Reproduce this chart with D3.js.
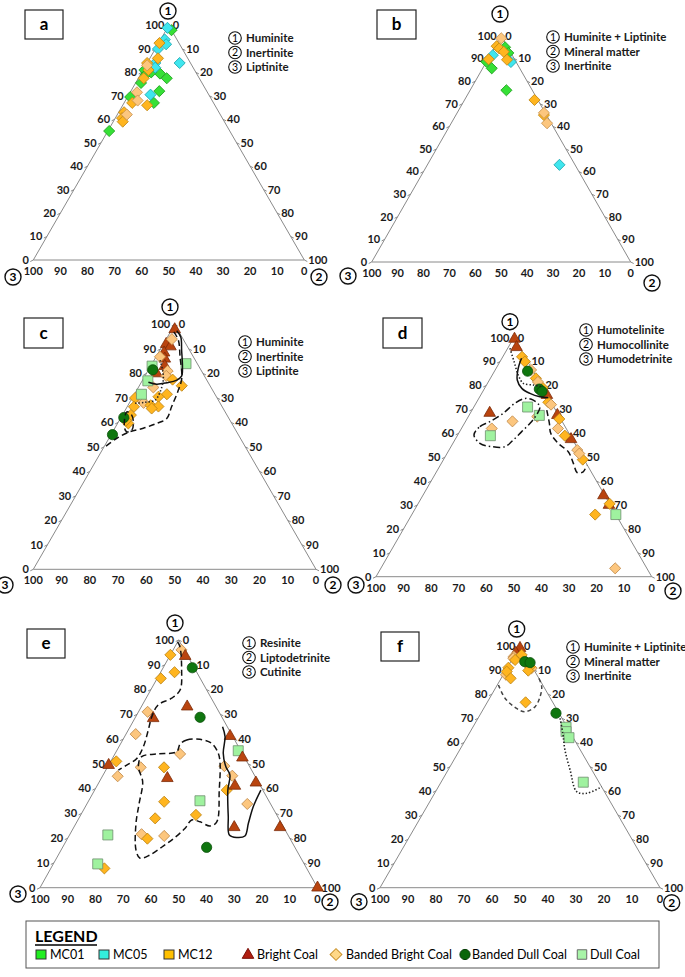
<!DOCTYPE html>
<html><head><meta charset="utf-8">
<script src="https://cdn.jsdelivr.net/npm/d3@7"></script>
<style>body{margin:0;background:#fff}svg{display:block}</style>
</head><body>
<svg id="chart" width="685" height="977"></svg>
<script>
// ---------- DATA ----------
const tickValues = [0,10,20,30,40,50,60,70,80,90,100];
const panelLetters = ["a","b","c","d","e","f"];
const aNames = ["Huminite","Inertinite","Liptinite"];
const bNames = ["Huminite + Liptinite","Mineral matter","Inertinite"];
const cNames = ["Huminite","Inertinite","Liptinite"];
const dNames = ["Humotelinite","Humocollinite","Humodetrinite"];
const eNames = ["Resinite","Liptodetrinite","Cutinite"];
const fNames = ["Huminite + Liptinite","Mineral matter","Inertinite"];

// points: [component1, component2, series]  (component3 = 100 - c1 - c2)
const aPoints = [
 [55,0.5,"MC01"],[69.5,1,"MC01"],[67,11,"MC01"],[72,10.5,"MC01"],[75.5,2,"MC01"],[77.5,10.5,"MC01"],
 [79.5,7,"MC01"],[81,0.5,"MC01"],[79,2,"MC01"],[80,3.5,"MC01"],[98,2,"MC01"],
 [99,0,"MC05"],[94,1.5,"MC05"],[92,3,"MC05"],[90,1,"MC05"],[84,12,"MC05"],[84,3,"MC05"],[82,4,"MC05"],[70.5,8,"MC05"],
 [92.5,0.3,"MC12"],[86,3,"MC12"],[84,0,"MC12"],[81,2,"MC12"],[77.5,2,"MC12"],[67,3,"MC12"],[66,9,"MC12"],
 [63,2,"MC12"],[60.5,2.5,"MC12"],[59,3.5,"MC12"],
 [83,0.5,"MC12L"],[71.5,2.5,"MC12L"],[68,4.5,"MC12L"],[62,3.5,"MC12L"]
];
const bPoints = [
 [95,4,"MC01"],[92.5,6.5,"MC01"],[88.6,0,"MC01"],[85.7,3.5,"MC01"],[76,14,"MC01"],
 [91.5,1,"MC05"],[88.5,9.5,"MC05"],[43,51,"MC05"],
 [95.5,0.5,"MC12"],[94.5,2,"MC12"],[93,4.5,"MC12"],[89.5,7.5,"MC12"],[89.7,0.3,"MC12"],[71.7,27,"MC12"],[65,34,"MC12"],
 [99,0.5,"MC12L"],[66,33.5,"MC12L"],[61.4,37,"MC12L"]
];
const cPoints = [
 [98,1,"BC"],[92,1,"BC"],[91,3,"BC"],[88.5,2,"BC"],[86,3.5,"BC"],[83,5,"BC"],[80,3.6,"BC"],
 [94,2,"BBL"],[86.8,1.4,"BBL"],[81,7,"BBL"],[79,7.5,"BBL"],[74.3,5.3,"BBL"],[69.1,3.8,"BBL"],[68,5,"BBL"],
 [77.5,10.5,"BBO"],[75,15,"BBO"],[71.5,11.5,"BBO"],[70.5,9,"BBO"],[67,8,"BBO"],[66.5,11,"BBO"],[65.7,9,"BBO"],
 [70,1,"BBO"],[66.4,2.4,"BBO"],[63,3,"BBO"],[59.6,3.8,"BBO"],[60.7,2.4,"BBO"],
 [83,0.5,"DC"],[77,2,"DC"],[71.5,2.5,"DC"],[84,12,"DC"],
 [81.5,1.5,"BDC"],[55,0.5,"BDC"],[62,1,"BDC"]
];
const dPoints = [
 [62,11,"BBL"],[67,25,"BBL"],[65,17,"BBL"],
 [99.5,0.5,"BC"],[96,3,"BC"],[68.5,7,"BC"],[76,24,"BC"],[67.6,32,"BC"],[57.5,42,"BC"],[34,65.5,"BC"],[30,69.5,"BC"],
 [92,7,"BBO"],[90,9,"BBO"],[83,16.5,"BBO"],[79,21,"BBO"],[73,26,"BBO"],[66,33.5,"BBO"],[59,39,"BBO"],[49,50.5,"BBO"],[30.5,69.5,"BBO"],[26,66.5,"BBO"],
 [86.5,13,"BBL"],[81.5,18,"BBL"],[72,27.5,"BBL"],[62,35,"BBL"],[53,46.5,"BBL"],[51.5,48,"BBL"],[3.5,85,"BBL"],
 [71,19.5,"DC"],[67.5,25.5,"DC"],[59,12,"DC"],[26,74,"DC"],
 [86,12,"BDC"],[78.5,20,"BDC"],[77.5,21.5,"BDC"]
];
const ePoints = [
 [96,3,"BBL"],[71,3.3,"BBL"],[62,3.5,"BBL"],[45,5.5,"BBL"],[54,23.5,"BBL"],[48.6,12,"BBL"],[21.6,25.8,"BBL"],
 [20.9,34.3,"BBL"],[49.1,41.9,"BBL"],[45.2,46.7,"BBL"],[33.8,57.8,"BBL"],
 [94,0,"BBO"],[87,5,"BBO"],[84.5,1.3,"BBO"],[51,2,"BBO"],[48.6,20.4,"BBO"],[34.7,27.4,"BBO"],[28,27.5,"BBO"],
 [19.8,28.8,"BBO"],[29.4,41.5,"BBO"],[39.4,47.6,"BBO"],[7.8,19.3,"BBO"],
 [55.3,43.8,"DC"],[35.1,40.1,"DC"],[21.3,13.8,"DC"],[9.6,16,"DC"],
 [93.5,5.6,"BC"],[73.1,16.5,"BC"],[68.4,6.6,"BC"],[49.5,0,"BC"],[44.2,23.8,"BC"],[61.2,37.9,"BC"],[52.5,46.7,"BC"],
 [42.4,56.6,"BC"],[41.1,49.7,"BC"],[24.4,57.8,"BC"],[24.4,74.3,"BC"],[0,100,"BC"],
 [88.8,10.5,"BDC"],[68.8,23.3,"BDC"],[16.3,51.9,"BDC"]
];
const fPoints = [
 [99,0.5,"BC"],[97,0,"BC"],
 [95.5,0,"BBL"],[94.8,0.2,"BBL"],[88,1,"BBL"],[90.7,8.8,"BBL"],
 [94.1,1.2,"BBO"],[92.7,6,"BBO"],[91.3,7.9,"BBO"],[90.9,0.4,"BBO"],[89.3,0.6,"BBO"],[86.5,3.4,"BBO"],
 [89.7,8.1,"BBO"],[76.6,13.7,"BBO"],[96.2,2.5,"BBO"],
 [93.4,5,"BDC"],[93,7.1,"BDC"],[72.1,26.8,"BDC"],
 [66.3,33.3,"DC"],[64.5,34.2,"DC"],[62,36.5,"DC"],[43.6,50.8,"DC"]
];

// outline curves [c1, c2]
const cSolid = [[97.4,2],[94.9,4.7],[89.5,7.7],[82.7,11.4],[78.9,13],[77.3,12.1],[76.2,9.1],[75.6,5.8],[76.4,2.5]];
const cDashed = [[97,1.2],[93.6,4.5],[86.8,8.5],[78,13.5],[73.2,14.7],[66.4,15.7],[61.6,16.4],[59.6,13.8],[57.6,10.1],[56.2,6.1],[53.5,2.8],[50,0.4]];
const cDotted = [[85.4,2.1],[81.3,5.1],[77.3,7.3],[72.5,8.6],[69.1,8.5],[68.2,5.4],[67.8,2.1]];
const cLoop = [[64.3,0.9],[63,3.3],[59.6,5.6],[56.9,6.4],[56.2,4.9],[58.2,3.1]];
const dSolid = [[91.4,7.1],[87.2,8],[82.3,10.1],[78.8,13.5],[76.7,17.5],[75.3,21.8],[74.9,25.1]];
const dDotted = [[95.6,0.8],[90,5.1],[84.4,9.4],[80.9,13],[80.2,17],[79.5,20.3]];
const dDashDot = [[59.3,5.9],[62.8,6.3],[64.9,8.9],[68.4,12],[72.6,14.1],[74.6,16.8],[73.9,20.1],[71.1,23.9],[67.7,24.4],[64.2,23.8],[60.7,22.5],[57.2,21.2],[54.4,19.6],[54.4,14.8],[55.8,9.8]];
const dDashed = [[69.7,27.1],[64.2,30.8],[60,33.4],[55.8,38.2],[52.3,43.6],[47.4,47.9],[43.5,51.3],[43.9,53.2],[46.7,53.1]];
const eDashedLeft = [[99.2,0],[97.3,1.8],[87.9,7.1],[79.8,10.6],[76.5,9.2],[73.8,5.7],[69,5.8],[63.7,7.2],[56.9,8.8],[52.2,8.8],[49.5,6.5],[47.5,4.5]];
const eDashedBlob = [[58,21.5],[59.6,23.1],[59.9,27.7],[58.3,32.7],[54.3,37.1],[50.2,39.8],[39.4,44.9],[26.6,50.4],[24.9,48.8],[26.6,44.4],[27.3,41],[24,40.3],[20.3,38.5],[16.8,36],[13.2,33],[11.9,30.1],[15.2,27],[26,21.6],[34.1,18.7],[42.8,15.6],[48.9,11],[52.9,10.2],[54,15.1],[54.9,21.8]];
const eSolid = [[65,33.3],[61,36.2],[54.3,38.9],[48.8,42.6],[45.5,45.7],[39.4,48],[28.7,53.5],[21.3,57.6],[20.3,60.7],[20.9,63.4],[26,62.1],[32.7,60.5],[39.4,59.9]];
const fDashed = [[83.8,0.4],[78.3,5.5],[74.5,11],[72.7,15.4],[74.8,18],[78.9,17.7],[83.1,16.2],[86.5,13.5]];
const fDotted = [[70,29.3],[63.8,33.4],[56.9,37.6],[48.6,43.6],[39.7,50.4],[39,54.3],[41.7,58.3]];

const legendSeries = ["MC01","MC05","MC12"];
const legendTypes = ["Bright Coal","Banded Bright Coal","Banded Dull Coal","Dull Coal"];

// ---------- LAYOUT / STYLE ----------
const layout = [
 {L:[33.3,260],R:[304.3,260],A:[168.8,25.5],n1:[168,11],n2:[319,277],n3:[13,277],box:[25,10,38,29],leg:[235,38],names:aNames,pts:aPoints,curves:[]},
 {L:[371.7,262],R:[630.7,262],A:[501.2,36],n1:[500,14],n2:[652,283],n3:[348,276],box:[377,10,39,29],leg:[553,37],names:bNames,pts:bPoints,curves:[]},
 {L:[33.3,569.3],R:[316,569.3],A:[174.7,324.5],n1:[170,307],n2:[333,585],n3:[5,585],box:[24,318,39,30],leg:[245,342],names:cNames,pts:cPoints,
  curves:[[cSolid,"solid",false],[cDashed,"dashed",false],[cDotted,"dotted",false],[cLoop,"dashed",true]]},
 {L:[376,576.7],R:[651.7,576.7],A:[513.8,337.7],n1:[510,321.7],n2:[673,591],n3:[356,585],box:[383,318,39,30],leg:[586,330],names:dNames,pts:dPoints,
  curves:[[dSolid,"solid",false],[dDotted,"dotted",false],[dDashDot,"dashdot",true],[dDashed,"dashed",false]]},
 {L:[40,887.7],R:[317.5,887.7],A:[178.7,640],n1:[175,623],n2:[330,902],n3:[18,894],box:[27,629,38,29],leg:[249,643],names:eNames,pts:ePoints,
  curves:[[eDashedLeft,"dashed",false],[eDashedBlob,"dashed",true],[eSolid,"solid",false]]},
 {L:[380,887.7],R:[660,887.7],A:[520,645.7],n1:[516.7,629],n2:[671.7,902.7],n3:[359,901.7],box:[381,632,38,29],leg:[573,647],names:fNames,pts:fPoints,
  curves:[[fDashed,"dashedgrey",false],[fDotted,"dotted",false]]}
];
const markStyle = {
 MC01:{shape:"diamond",fill:"#36e036",stroke:"#1e9e1e"},
 MC05:{shape:"diamond",fill:"#3fe6ee",stroke:"#1ea4ae"},
 MC12:{shape:"diamond",fill:"#ffb51f",stroke:"#c08613"},
 MC12L:{shape:"diamond",fill:"#fcc67e",stroke:"#c8924e"},
 BC:{shape:"triangle",fill:"#b9440f",stroke:"#7c2b08"},
 BBL:{shape:"diamond",fill:"#fcc67e",stroke:"#c08a4a"},
 BBO:{shape:"diamond",fill:"#ffb51f",stroke:"#bd8415"},
 BDC:{shape:"circle",fill:"#0f760f",stroke:"#0a4f0a"},
 DC:{shape:"square",fill:"#9ff29f",stroke:"#6f8f6f"}
};
const lineStyle = {solid:[null,"#111"],dashed:["6,3.5","#111"],dashedgrey:["4,3","#444"],dotted:["1.4,2","#222"],dashdot:["7,3,1.5,3","#111"]};

const svg = d3.select("#chart");
const FONT = "Lato, 'Open Sans', sans-serif";
const pct = d3.scaleLinear().domain([0,100]).range([0,1]);

function symPath(shape){
  if(shape==="diamond") return d3.symbol(d3.symbolSquare,62)();
  if(shape==="triangle") return d3.symbol(d3.symbolTriangle,58)();
  if(shape==="circle") return d3.symbol(d3.symbolCircle,82)();
  return d3.symbol(d3.symbolSquare,100)();
}

layout.forEach((p,i)=>{
  const g = svg.append("g");
  const proj = (c1,c2)=>[
    p.L[0] + pct(c1)*(p.A[0]-p.L[0]) + pct(c2)*(p.R[0]-p.L[0]),
    p.L[1] + pct(c1)*(p.A[1]-p.L[1]) + pct(c2)*(p.R[1]-p.L[1])
  ];
  g.append("path").attr("d", d3.line()([proj(100,0),proj(0,100),proj(0,0)])+"Z")
    .attr("fill","none").attr("stroke","#8a8a8a").attr("stroke-width",1);
  const tg = g.append("g").attr("font-family",FONT).attr("font-weight","bold").attr("font-size",11).attr("fill","#1a1a1a");
  tickValues.forEach(v=>{
    let q = proj(v,0);
    g.append("line").attr("x1",q[0]).attr("y1",q[1]).attr("x2",q[0]-3).attr("y2",q[1]+1.5).attr("stroke","#8a8a8a");
    tg.append("text").attr("x",q[0]-4.5).attr("y",q[1]).attr("dy","0.35em").attr("text-anchor","end").text(v);
    q = proj(100-v,v);
    g.append("line").attr("x1",q[0]).attr("y1",q[1]).attr("x2",q[0]+3).attr("y2",q[1]+1.5).attr("stroke","#8a8a8a");
    tg.append("text").attr("x",q[0]+4).attr("y",q[1]).attr("dy","0.35em").attr("text-anchor","start").text(v);
    q = proj(0,100-v);
    tg.append("text").attr("x",q[0]).attr("y",q[1]+15).attr("text-anchor","middle").text(v);
  });
  p.pts.forEach(d=>{
    const st = markStyle[d[2]], q = proj(d[0],d[1]);
    g.append("path").attr("d",symPath(st.shape))
      .attr("transform",`translate(${q[0]},${q[1]})`+(st.shape==="diamond"?" rotate(45)":""))
      .attr("fill",st.fill).attr("stroke",st.stroke).attr("stroke-width",0.8);
  });
  p.curves.forEach(([pts,style,closed])=>{
    const ls = lineStyle[style];
    const gen = d3.line().curve(closed? d3.curveCatmullRomClosed.alpha(0.5) : d3.curveCatmullRom.alpha(0.5));
    g.append("path").attr("d",gen(pts.map(c=>proj(c[0],c[1]))))
      .attr("fill","none").attr("stroke",ls[1]).attr("stroke-width",style==="dotted"?1.6:1.5)
      .attr("stroke-dasharray",ls[0]);
  });
  [[p.n1,"1"],[p.n2,"2"],[p.n3,"3"]].forEach(([c,t])=>{
    g.append("circle").attr("cx",c[0]).attr("cy",c[1]).attr("r",8).attr("fill","#fff").attr("stroke","#111").attr("stroke-width",1.4);
    g.append("text").attr("x",c[0]).attr("y",c[1]).attr("dy","0.36em").attr("text-anchor","middle")
      .attr("font-family",FONT).attr("font-weight","bold").attr("font-size",12).text(t);
  });
  g.append("rect").attr("x",p.box[0]).attr("y",p.box[1]).attr("width",p.box[2]).attr("height",p.box[3])
    .attr("fill","#fff").attr("stroke","#222").attr("stroke-width",1.2);
  g.append("text").attr("x",p.box[0]+p.box[2]/2).attr("y",p.box[1]+p.box[3]/2).attr("dy","0.33em")
    .attr("text-anchor","middle").attr("font-family",FONT).attr("font-weight","bold").attr("font-size",17).text(panelLetters[i]);
  p.names.forEach((nm,k)=>{
    const y = p.leg[1] + k*14.5;
    g.append("circle").attr("cx",p.leg[0]).attr("cy",y).attr("r",6.3).attr("fill","#fff").attr("stroke","#111").attr("stroke-width",1.1);
    g.append("text").attr("x",p.leg[0]).attr("y",y).attr("dy","0.36em").attr("text-anchor","middle")
      .attr("font-family",FONT).attr("font-size",10.5).text(k+1);
    g.append("text").attr("x",p.leg[0]+11).attr("y",y).attr("dy","0.36em")
      .attr("font-family",FONT).attr("font-weight","bold").attr("font-size",11.5).attr("fill","#1a1a1a").text(nm);
  });
});

// ---------- BOTTOM LEGEND ----------
const lg = svg.append("g").attr("font-family",FONT);
lg.append("rect").attr("x",26).attr("y",921).attr("width",633).attr("height",47).attr("fill","#fff").attr("stroke","#555").attr("stroke-width",1);
lg.append("text").attr("x",35).attr("y",942).attr("font-weight","bold").attr("font-size",16).text("LEGEND");
lg.append("line").attr("x1",35).attr("x2",97).attr("y1",945).attr("y2",945).attr("stroke","#000").attr("stroke-width",1.3);
const seriesLeg = [["#22ee22",36],["#33eedd",99],["#ffc000",164]];
seriesLeg.forEach(([c,x],k)=>{
  lg.append("rect").attr("x",x).attr("y",950).attr("width",10).attr("height",9).attr("fill",c).attr("stroke","#333").attr("stroke-width",1);
  lg.append("text").attr("x",x+14).attr("y",959).attr("font-size",12.5).text(legendSeries[k]);
});
const typeLeg = [
 [{shape:"triangle",fill:"#b01e10",stroke:"#7a1008"},248,257],
 [{shape:"diamond",fill:"#ffd887",stroke:"#c8902a"},336,346],
 [{shape:"circle",fill:"#0a660a",stroke:"#053d05"},465,472],
 [{shape:"square",fill:"#a8f4a8",stroke:"#6a6a6a"},582,590]
];
typeLeg.forEach(([st,cx,tx],k)=>{
  let d = st.shape==="diamond"? d3.symbol(d3.symbolSquare,70)() : st.shape==="square"? d3.symbol(d3.symbolSquare,90)() : symPath(st.shape);
  lg.append("path").attr("d",d).attr("transform",`translate(${cx},${st.shape==="triangle"?955:954.5})`+(st.shape==="diamond"?" rotate(45)":""))
    .attr("fill",st.fill).attr("stroke",st.stroke).attr("stroke-width",1);
  lg.append("text").attr("x",tx).attr("y",959).attr("font-size",12.5).text(legendTypes[k]);
});
</script>
</body></html>
